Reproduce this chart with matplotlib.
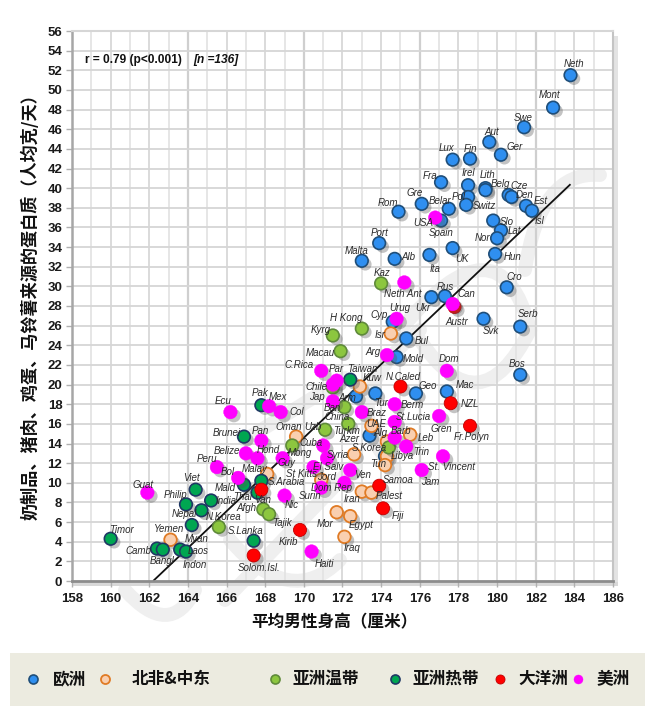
import matplotlib
matplotlib.use("Agg")
import matplotlib.pyplot as plt
import matplotlib.patheffects as pe
from matplotlib.lines import Line2D
from matplotlib.patches import Rectangle, PathPatch
from matplotlib.path import Path
from matplotlib.transforms import Affine2D

plt.rcParams['font.family'] = ['Noto Sans CJK SC', 'DejaVu Sans']

# height (cm), protein (g/person/day) per region
europe_x = [183.8, 182.9, 181.4, 179.6, 180.2, 177.7, 178.6, 177.1, 178.5, 179.4, 179.4, 180.6, 180.75,
            181.5, 181.8, 176.1, 174.9, 177.5, 178.5, 178.4, 177.1, 179.8, 180.2, 180.0, 173.9, 173.0,
            174.7, 176.5, 177.7, 179.9, 180.5, 176.6, 177.3, 179.3, 181.2, 175.3, 181.2, 174.8, 174.6,
            175.8, 173.7, 172.7, 177.4, 173.4, 174.2]
europe_y = [51.5, 48.2, 46.2, 44.7, 43.4, 42.9, 43.0, 40.6, 40.3, 40.0, 39.8, 39.3, 39.1,
            38.2, 37.7, 38.4, 37.6, 37.9, 39.1, 38.3, 36.7, 36.7, 35.7, 34.9, 34.4, 32.6,
            32.8, 33.2, 33.9, 33.3, 29.9, 28.9, 29.0, 26.7, 25.9, 24.7, 21.0, 22.8, 26.4,
            19.1, 19.1, 18.8, 19.3, 14.8, 12.7]

mena_x = [174.5, 172.9, 173.5, 169.6, 174.3, 175.5, 174.3, 174.2, 172.6, 170.9, 173.0, 173.5, 171.7,
          172.4, 172.1, 163.1, 168.1]
mena_y = [25.2, 19.8, 15.8, 14.7, 14.2, 14.9, 12.7, 11.8, 12.9, 10.3, 9.1, 9.0, 7.0,
          6.6, 4.5, 4.2, 10.9]

asia_temp_x = [174.0, 173.0, 171.5, 171.9, 171.5, 172.1, 172.3, 171.1, 169.4, 167.9, 168.2, 165.6, 174.4]
asia_temp_y = [30.3, 25.7, 25.0, 23.4, 19.7, 17.7, 16.0, 15.4, 13.8, 7.3, 6.8, 5.5, 13.6]

asia_trop_x = [160.0, 162.4, 162.7, 163.6, 163.9, 164.2, 163.9, 164.4, 164.7, 165.2, 166.9, 166.9, 167.8,
               167.6, 167.8, 167.4, 172.4]
asia_trop_y = [4.3, 3.3, 3.2, 3.2, 3.0, 5.7, 7.8, 9.3, 7.2, 8.2, 9.8, 14.7, 17.9,
               9.0, 10.2, 4.1, 20.5]

oceania_x = [175.0, 177.6, 177.8, 178.6, 173.9, 174.1, 167.8, 169.8, 167.4]
oceania_y = [19.8, 18.1, 27.9, 15.8, 9.7, 7.4, 9.3, 5.2, 2.6]

americas_x = [161.9, 165.5, 166.6, 167.0, 167.8, 167.6, 166.2, 168.2, 168.8, 170.9, 171.7, 171.5, 171.5,
              168.9, 170.5, 171.0, 171.2, 172.4, 169.0, 170.4, 170.9, 172.1, 174.7, 174.7, 177.0, 173.0,
              174.7, 175.3, 177.2, 176.1, 177.4, 174.8, 174.3, 175.2, 176.8, 177.7]
americas_y = [9.0, 11.6, 10.5, 13.0, 14.3, 12.5, 17.2, 17.8, 17.2, 21.4, 20.4, 20.0, 18.3,
              12.5, 11.6, 13.8, 12.5, 11.3, 8.7, 3.0, 9.5, 10.0, 18.0, 16.2, 16.8, 17.2,
              14.6, 13.7, 12.7, 11.3, 21.4, 26.7, 23.0, 30.4, 37.0, 28.2]

fit_x = [162.2, 183.8]
fit_y = [0, 40.4]

x_ticks = list(range(158, 188, 2))
y_ticks = list(range(0, 58, 2))

legend_names = ['欧洲', '北非&中东', '亚洲温带', '亚洲热带', '大洋洲', '美洲']

# label centres in image pixels
label_pos = {
    'Neth': (574, 64), 'Mont': (550, 95), 'Swe': (523, 118), 'Aut': (492, 132), 'Ger': (515, 147),
    'Lux': (447, 148), 'Fin': (470, 149), 'Fra': (430, 176), 'Irel': (468, 173), 'Lith': (488, 175),
    'Belg': (500, 184), 'Cze': (519, 186), 'Den': (525, 195), 'Est': (541, 201), 'Gre': (415, 193),
    'Belar': (440, 201), 'Pol': (459, 197), 'Switz': (484, 206), 'Rom': (388, 203), 'USA': (423, 223),
    'Slo': (507, 222), 'Isl': (539, 221), 'Lat': (514, 231), 'Spain': (441, 233), 'Nor': (483, 238),
    'Port': (380, 233), 'Malta': (357, 251), 'Alb': (408, 257), 'Hun': (513, 257), 'UK': (462, 259),
    'Ita': (435, 269), 'Kaz': (382, 273), 'Cro': (514, 277), 'Neth Ant': (403, 294), 'Rus': (445, 287),
    'Can': (466, 294), 'Ukr': (423, 308), 'Urug': (400, 308), 'Cyp': (379, 315), 'H Kong': (346, 318),
    'Austr': (457, 322), 'Svk': (491, 331), 'Serb': (528, 314), 'Isr': (380, 335), 'Bul': (422, 341),
    'Arg': (373, 352), 'Mold': (413, 359), 'Dom': (449, 359), 'Bos': (517, 364), 'Taiwan': (362, 369),
    'Kuw': (372, 378), 'N.Caled': (403, 377), 'Geo': (428, 386), 'Mac': (465, 385), 'Tur': (381, 403),
    'Berm': (412, 405), 'NZL': (470, 404), 'Braz': (377, 413), 'St.Lucia': (413, 417), 'UAE': (376, 424),
    'Gren': (441, 429), 'Fr.Polyn': (472, 437), 'Kyrg': (321, 330), 'Macau': (320, 353), 'C.Rica': (299, 365),
    'Par': (336, 369), 'Chile': (316, 387), 'Jap': (317, 397), 'Arm': (347, 398), 'Ban': (332, 408),
    'China': (337, 417), 'Pak': (260, 393), 'Mex': (278, 397), 'Col': (297, 412), 'Ecu': (223, 401),
    'Oman': (289, 427), 'Uzb': (313, 427), 'Turkm': (347, 431), 'Brunei': (227, 433), 'Pan': (260, 431),
    'Belize': (227, 451), 'Hond': (268, 450), 'Peru': (207, 459), 'Cuba': (311, 443), 'Mong': (300, 453),
    'Guy': (286, 463), 'Syria': (338, 455), 'Malay': (255, 469), 'St Kitts': (302, 474), 'El Salv': (328, 467),
    'Bol': (228, 472), 'S.Arabia': (286, 482), 'Jord': (326, 477), 'Dom Rep': (332, 488), 'Mald': (225, 488),
    'Thai': (243, 497), 'Van': (263, 500), 'India': (226, 501), 'Surin': (310, 496), 'Nic': (292, 505),
    'Afgh': (246, 508), 'N.Korea': (224, 517), 'Tajik': (282, 523), 'Mor': (325, 524), 'S.Lanka': (246, 531),
    'Kirib': (288, 542), 'Iraq': (352, 548), 'Solom.Isl.': (259, 568), 'Haiti': (324, 564), 'S.Korea': (369, 448),
    'Azer': (349, 439), 'Alg': (380, 433), 'Barb': (401, 431), 'Leb': (426, 438), 'Libya': (402, 456),
    'Trin': (421, 452), 'St. Vincent': (452, 467), 'Jam': (430, 482), 'Tun': (378, 464), 'Ven': (363, 475),
    'Samoa': (398, 480), 'Palest': (389, 496), 'Iran': (352, 499), 'Fiji': (398, 516), 'Egypt': (361, 525),
    'Guat': (143, 485), 'Timor': (122, 530), 'Philip': (176, 495), 'Viet': (191, 478), 'Nepal': (184, 514),
    'Myan': (197, 539), 'Yemen': (169, 529), 'Camb': (138, 551), 'Bangl': (162, 561), 'Laos': (198, 551),
    'Indon': (195, 565),
}

W, H = 652, 713
fig = plt.figure(figsize=(W / 100, H / 100), dpi=100, facecolor='white')
to_fig = Affine2D().scale(1 / W, -1 / H).translate(0, 1) + fig.transFigure

# faint watermark behind the grid
wm = [
    [(Path.MOVETO, (225, 600)), (Path.LINETO, (355, 465))],
    [(Path.MOVETO, (245, 440)), (Path.LINETO, (345, 378))],
    [(Path.MOVETO, (125, 590)), (Path.CURVE3, (170, 640)), (Path.CURVE3, (195, 590))],
    [(Path.MOVETO, (230, 540)), (Path.CURVE3, (290, 610)), (Path.CURVE3, (340, 560))],
    [(Path.MOVETO, (395, 470)), (Path.CURVE3, (330, 400)), (Path.CURVE3, (420, 330))],
    [(Path.MOVETO, (400, 330)), (Path.CURVE3, (500, 210)), (Path.CURVE3, (530, 330)),
     (Path.CURVE3, (480, 430)), (Path.CURVE3, (420, 340))],
    [(Path.MOVETO, (525, 270)), (Path.CURVE3, (540, 170)), (Path.CURVE3, (600, 175))],
]
for stroke in wm:
    codes, pts = zip(*stroke)
    fig.add_artist(PathPatch(Path(pts, codes), fc='none', ec='#efefef', lw=10, transform=to_fig,
                             zorder=-1, capstyle='round'))

ax = fig.add_axes([72 / W, (H - 581) / H, 541 / W, 550 / H])
ax.patch.set_alpha(0)
ax.set_xlim(158, 186)
ax.set_ylim(0, 56)
ax.set_axisbelow(True)

for v in range(159, 186):
    col = '#cfcfcf' if (v - 158) % 6 == 0 else ('#d4d4d4' if v % 2 == 0 else '#e2e2e2')
    ax.axvline(v, color=col, lw=1.6 if (v - 158) % 6 == 0 else 1.2, zorder=0)
for v in y_ticks[1:-1]:
    ax.axhline(v, color='#d6d6d6', lw=1.3, zorder=0)

ax.set_xticks(x_ticks)
ax.set_yticks(y_ticks)
ax.tick_params(axis='x', length=4, width=1, color='#b0b0b0', pad=5)
ax.tick_params(axis='y', length=4, width=1, color='#b0b0b0', pad=3)
for lab in ax.get_xticklabels() + ax.get_yticklabels():
    lab.set_family(['Liberation Sans Narrow', 'Liberation Sans'])
    lab.set_fontsize(9.5)
    lab.set_fontweight('bold')
    lab.set_color('#1a1a1a')

for side, col, lw in [('left', '#a6a6a6', 1.8), ('bottom', '#8c8c8c', 2.0), ('right', '#c4c4c4', 1.5), ('top', '#d6d6d6', 1.5)]:
    ax.spines[side].set_color(col)
    ax.spines[side].set_linewidth(lw)

# drop shadow along right and bottom of the plot box
fig.add_artist(Rectangle((614, 36), 4, 548, transform=to_fig, fc='#e3e3e3', ec='none', zorder=-0.5))
fig.add_artist(Rectangle((72, 582), 546, 4, transform=to_fig, fc='#d8d8d8', ec='none', zorder=-0.5))

ax.plot(fit_x, fit_y, color='#111111', lw=1.3, zorder=2, solid_capstyle='butt')

shadow = [pe.SimplePatchShadow(offset=(2.5, -2.5), shadow_rgbFace='#555555', alpha=0.35), pe.Normal()]
groups = [
    (europe_x, europe_y, '#2f8ff0', '#1f4e79', 82, 1.2),
    (mena_x, mena_y, '#f9cfb0', '#e07b25', 82, 1.3),
    (asia_temp_x, asia_temp_y, '#8cc63f', '#5f8a3a', 82, 1.2),
    (asia_trop_x, asia_trop_y, '#00a651', '#1f3864', 82, 1.2),
    (oceania_x, oceania_y, '#ff0000', '#c00000', 88, 0.6),
    (americas_x, americas_y, '#ff00ff', '#ff00ff', 96, 0.3),
]
for gx, gy, fc, ec, size, lw in groups:
    ax.scatter(gx, gy, s=size, c=fc, edgecolors=ec, linewidths=lw, zorder=3, path_effects=shadow, clip_on=False)

for name, (lx, ly) in label_pos.items():
    fig.text(lx / W, 1 - ly / H, name, family=['Liberation Sans', 'DejaVu Sans'], style='italic', fontsize=7,
             color='#2a2a2a', ha='center', va='center', zorder=5)

fig.text(85 / W, 1 - 60 / H, 'r = 0.79 (p<0.001) ', family=['Liberation Sans'], fontsize=8.6, color='#111111',
         ha='left', va='center', fontweight='bold', zorder=5)
fig.text(193 / W, 1 - 60 / H, '[n =136]', family=['Liberation Sans'], fontsize=8.6, color='#111111',
         ha='left', va='center', style='italic', fontweight='bold', zorder=5)

fig.text(334 / W, 1 - 622 / H, '平均男性身高（厘米）', fontsize=12, fontweight='bold', color='#111111',
         ha='center', va='center')
fig.text(30 / W, 1 - 303 / H, '奶制品、猪肉、鸡蛋、马铃薯来源的蛋白质（人均克/天）', fontsize=12.3, fontweight='bold',
         color='#111111', rotation=90, ha='center', va='center')

# legend band, drawn by hand to get the uneven spacing of the original
fig.add_artist(Rectangle((10, 653), 635, 53, transform=to_fig, fc='#ecebe0', ec='none', zorder=1))
legend_marker_x = [33, 105, 275, 395, 500, 578]
legend_text_x = [70, 171, 326, 446, 543, 613]
for i, name in enumerate(legend_names):
    _, _, fc, ec, _, lw = groups[i]
    fig.add_artist(Line2D([legend_marker_x[i]], [679], marker='o', ms=6.5, mfc=fc, mec=ec, mew=lw, ls='none',
                          transform=to_fig, zorder=2))
    fig.text(legend_text_x[i] / W, 1 - 679 / H, name, fontsize=12, fontweight='bold', color='#111111',
             ha='center', va='center', zorder=3)

fig.savefig('out.png', dpi=100)
